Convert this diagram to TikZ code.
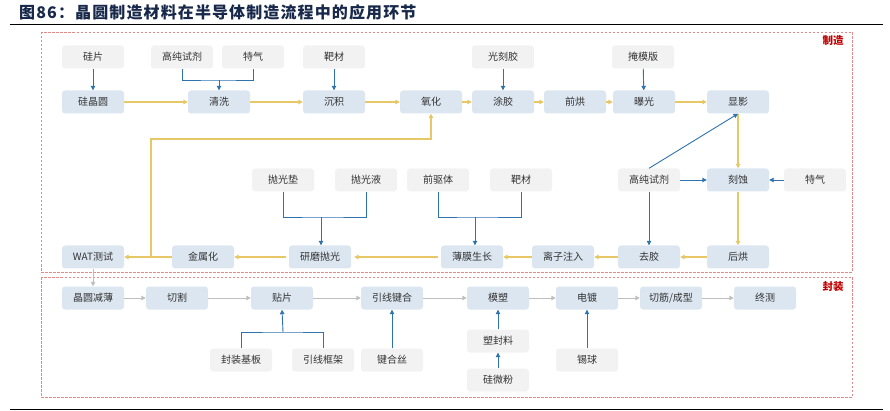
\documentclass[tikz,border=0pt]{standalone}
\usepackage{fontspec}
\setmainfont{Noto Sans CJK SC}
\usetikzlibrary{arrows.meta}
\definecolor{procfill}{HTML}{DCE6F1}
\definecolor{matfill}{HTML}{F2F2F2}
\definecolor{txt}{HTML}{333333}
\definecolor{ylw}{HTML}{E8C766}
\definecolor{blu}{HTML}{2E72AE}
\definecolor{gry}{HTML}{BFBFBF}
\definecolor{dashred}{HTML}{E28A8A}
\definecolor{lblred}{HTML}{C00000}
\definecolor{navy}{HTML}{17284A}
\begin{document}
\begin{tikzpicture}[x=1pt,y=-1pt,
  base/.style={rounded corners=3pt, minimum width=62pt, minimum height=23pt, inner sep=0pt, font=\fontsize{10}{12}\selectfont, text=txt},
  proc/.style={base, fill=procfill},
  mat/.style={base, fill=matfill},
  tip/.style={-{Triangle[length=4.5pt,width=4.5pt]}},
  yarr/.style={draw=ylw, line width=1.1pt, tip},
  yline/.style={draw=ylw, line width=1.1pt},
  barr/.style={draw=blu, line width=0.9pt, tip},
  bline/.style={draw=blu, line width=0.9pt},
  garr/.style={draw=gry, line width=1pt, tip},
  region/.style={draw=dashred, line width=0.6pt, dash pattern=on 2.5pt off 1.5pt},
  rlabel/.style={text=lblred, font=\fontsize{10.5}{12}\bfseries\selectfont}
]
\useasboundingbox (0,0) rectangle (890,411);
% title and rules
\node[anchor=west, inner sep=0pt, text=navy, font=\fontsize{16}{18}\bfseries\addfontfeature{LetterSpace=7}\selectfont] (title) at (19,12) {图86：晶圆制造材料在半导体制造流程中的应用环节};
\draw[line width=1pt] (10,25) -- (883,25);
\draw[line width=1pt] (10,409) -- (883,409);
% regions
\draw[region] (41,32) rectangle (852,272);
\draw[region] (41,277) rectangle (852,397);
\node[rlabel] (lz) at (833,41) {制造};
\node[rlabel] (lf) at (833,287) {封装};

% row 1 materials
\node[mat] (gp) at (93,57) {硅片};
\node[mat] (gc1) at (182,57) {高纯试剂};
\node[mat] (tq1) at (253,57) {特气};
\node[mat] (bc1) at (334,57) {靶材};
\node[mat] (gkj) at (503,57) {光刻胶};
\node[mat] (ymb) at (643,57) {掩模版};
% row 2 processes
\node[proc] (gjy) at (93,102) {硅晶圆};
\node[proc] (qx) at (219,102) {清洗};
\node[proc] (cj) at (334,102) {沉积};
\node[proc] (yh) at (431,102) {氧化};
\node[proc] (tj) at (503,102) {涂胶};
\node[proc] (qh) at (575,102) {前烘};
\node[proc] (bg) at (644,102) {曝光};
\node[proc] (xy) at (738,102) {显影};
% row 3
\node[mat] (pgd) at (283,180) {抛光垫};
\node[mat] (pgy) at (366,180) {抛光液};
\node[mat] (qqt) at (438,180) {前驱体};
\node[mat] (bc2) at (521,180) {靶材};
\node[mat] (gc2) at (649,180) {高纯试剂};
\node[proc] (ks) at (738,180) {刻蚀};
\node[mat] (tq2) at (815,180) {特气};
% row 4
\node[proc] (wat) at (93,257) {WAT测试};
\node[proc] (jsh) at (203,257) {金属化};
\node[proc] (ympg) at (320,257) {研磨抛光};
\node[proc] (bmsz) at (472,257) {薄膜生长};
\node[proc] (lzzr) at (563,257) {离子注入};
\node[proc] (qj) at (649,257) {去胶};
\node[proc] (hh) at (738,257) {后烘};
% packaging row
\node[proc] (jyjb) at (93,298) {晶圆减薄};
\node[proc] (qg) at (177,298) {切割};
\node[proc] (tp) at (282,298) {贴片};
\node[proc] (yxjh) at (392,298) {引线键合};
\node[proc] (ms) at (498,298) {模塑};
\node[proc] (dd) at (587,298) {电镀};
\node[proc] (qjcx) at (671,298) {切筋/成型};
\node[proc] (zc) at (765,298) {终测};
% packaging materials
\node[mat] (fzjb) at (241,360) {封装基板};
\node[mat] (yxkj) at (323,360) {引线框架};
\node[mat] (jhs) at (392,360) {键合丝};
\node[mat] (sfl) at (498,341) {塑封料};
\node[mat] (gwf) at (498,380) {硅微粉};
\node[mat] (xq) at (587,360) {锡球};

% junction coordinates
\coordinate (j1) at (219,80);
\coordinate (j2) at (321,217);
\coordinate (j3) at (475,217);
\coordinate (j4) at (283,332);
\coordinate (fb) at (151,257);
\coordinate (fbt) at (151,139);

% manufacturing yellow flow
\draw[yarr] (gjy) -- (qx);
\draw[yarr] (qx) -- (cj);
\draw[yarr] (cj) -- (yh);
\draw[yarr] (yh) -- (tj);
\draw[yarr] (tj) -- (qh);
\draw[yarr] (qh) -- (bg);
\draw[yarr] (bg) -- (xy);
\draw[yarr] (xy) -- (ks);
\draw[yarr] (ks) -- (hh);
\draw[yarr] (hh) -- (qj);
\draw[yarr] (qj) -- (lzzr);
\draw[yarr] (lzzr) -- (bmsz);
\draw[yarr] ([xshift=-3pt]bmsz.west) -- ([xshift=3pt]ympg.east);
\draw[yarr] ([xshift=-3pt]ympg.west) -- (jsh);
\draw[yarr] (jsh) -- (wat);
\draw[yarr] (fb) -- (fbt) -| (yh.south);

% blue material connectors
\draw[barr] (gp) -- (gjy);
\draw[bline] (gc1.south) |- (j1) -| (tq1.south);
\draw[barr] (j1) -- (qx.north);
\draw[barr] (bc1) -- (cj);
\draw[barr] (gkj) -- (tj);
\draw[barr] (ymb) -- (bg);
\draw[bline] (pgd.south) |- (j2) -| (pgy.south);
\draw[barr] (j2) -- (j2 |- ympg.north);
\draw[bline] (qqt.south) |- (j3) -| (bc2.south);
\draw[barr] (j3) -- (j3 |- bmsz.north);
\draw[barr] (gc2.north) -- (xy.south);
\draw[barr] (gc2) -- (ks);
\draw[barr] (tq2) -- (ks);
\draw[barr] (gc2) -- (qj);

% packaging flow
\draw[draw=gry, line width=1pt, tip] (wat) -- (jyjb);
\draw[garr] (jyjb) -- (qg);
\draw[garr] (qg) -- (tp);
\draw[garr] (tp) -- (yxjh);
\draw[garr] (yxjh) -- (ms);
\draw[garr] (ms) -- (dd);
\draw[garr] (dd) -- (qjcx);
\draw[garr] (qjcx) -- (zc);

% packaging materials connectors
\draw[bline] (fzjb.north) |- (j4) -| (yxkj.north);
\draw[barr] (j4) -- (tp.south);
\draw[barr] (jhs) -- (yxjh);
\draw[barr] (sfl) -- (ms);
\draw[barr] (gwf) -- (sfl);
\draw[barr] (xq) -- (dd);
\end{tikzpicture}
\end{document}
